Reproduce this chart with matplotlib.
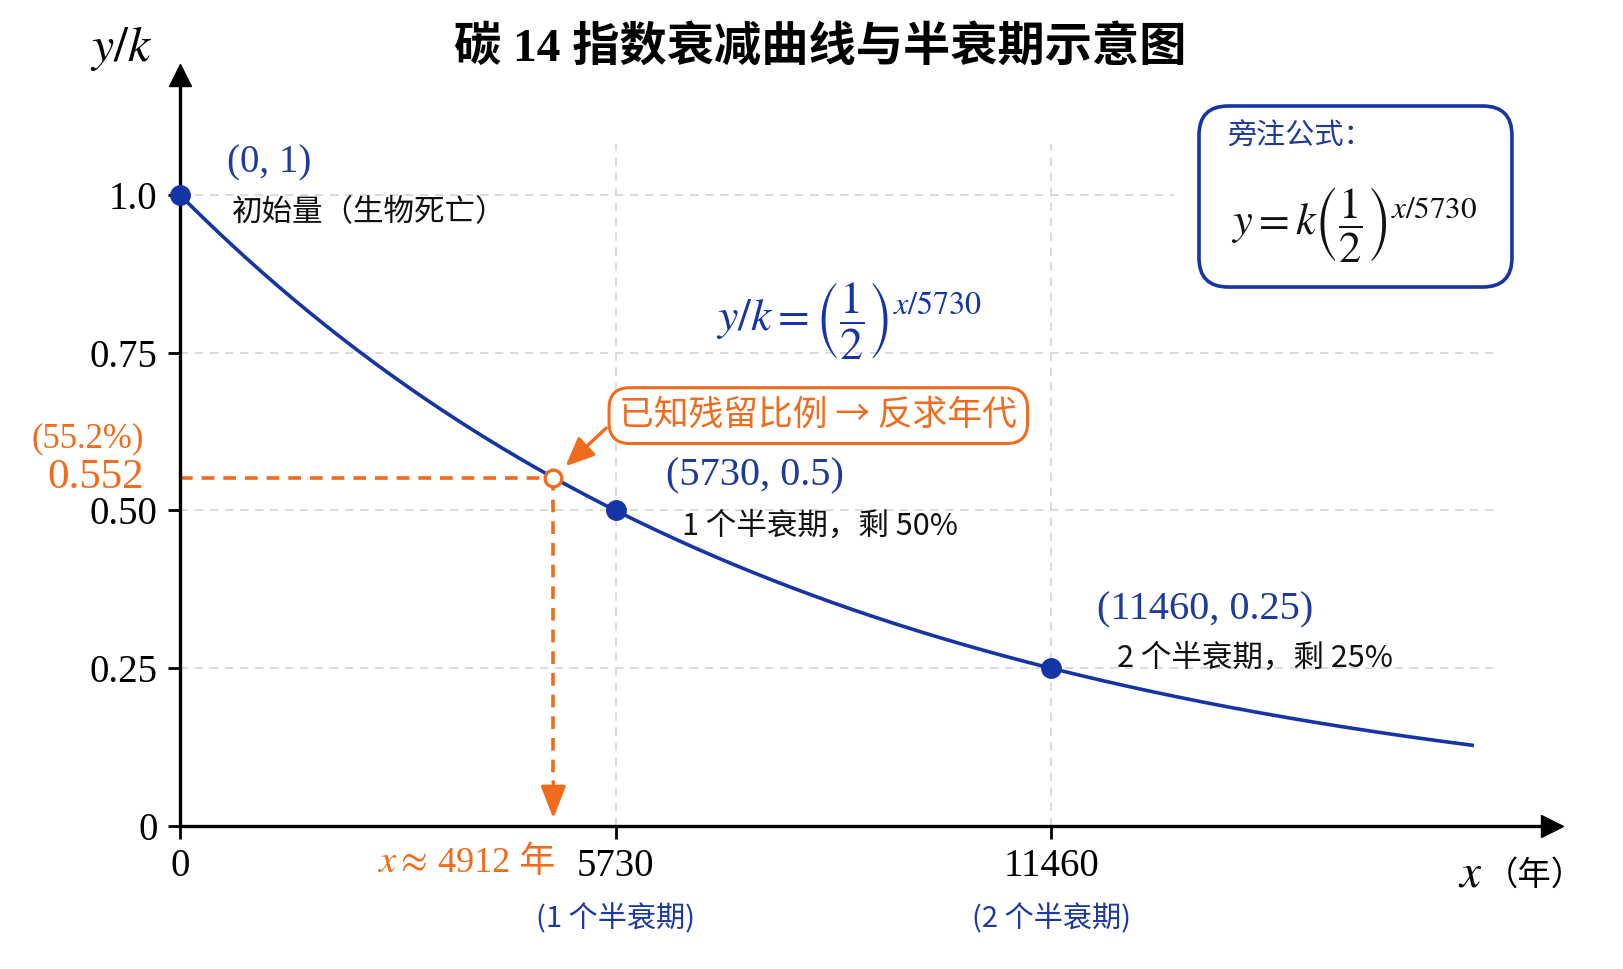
import numpy as np
import matplotlib

matplotlib.use("Agg")
import matplotlib.pyplot as plt
from matplotlib.patches import FancyBboxPatch

plt.rcParams["font.family"] = ["Liberation Serif", "Noto Sans CJK SC"]
plt.rcParams["mathtext.fontset"] = "stix"
CJK = ["Noto Sans CJK SC", "Liberation Serif"]

# data
half_life = 5730
x_end = 17000
key_x = [0, 5730, 11460]
key_y = [1.0, 0.5, 0.25]
known_ratio = 0.552
known_age = 4912
yticks = [0, 0.25, 0.5, 0.75, 1.0]
ytick_labels = ["0", "0.25", "0.50", "0.75", "1.0"]
xticks = [0, 5730, 11460]
xtick_labels = ["0", "5730", "11460"]

blue = "#1535a5"
tblue = "#1d3a9c"
orange = "#f26a1b"
grid_c = "#d4d4d4"

# the curve is the function written on the chart
curve_x = np.linspace(0, x_end, 400)
curve_y = 0.5 ** (curve_x / half_life)

fig = plt.figure(figsize=(16.24, 9.69), dpi=100)
ax = fig.add_axes([0.1108, 0.1476, 0.8449, 0.775])
ax.set_xlim(0, 18050)
ax.set_ylim(0, 1.19)

for s in ["top", "right"]:
    ax.spines[s].set_visible(False)
for s in ["left", "bottom"]:
    ax.spines[s].set_linewidth(2.4)
ax.plot(1, 0, ">k", ms=16, transform=ax.get_yaxis_transform(), clip_on=False)
ax.plot(0, 1, "^k", ms=16, transform=ax.get_xaxis_transform(), clip_on=False)

# dashed guide grid
ax.hlines([0.25, 0.5, 0.75], 0, 17360, colors=grid_c, linestyles=(0, (5, 4)), lw=1.2, zorder=0)
ax.hlines([1.0], 0, 13080, colors=grid_c, linestyles=(0, (5, 4)), lw=1.2, zorder=0)
ax.vlines([5730, 11460], 0, 1.08, colors=grid_c, linestyles=(0, (5, 4)), lw=1.2, zorder=0)

ax.set_xticks(xticks, xtick_labels, fontsize=28)
ax.set_yticks(yticks, ytick_labels, fontsize=28)
ax.tick_params(axis="both", direction="out", length=9, width=2, pad=7)

# curve and key points
ax.plot(curve_x, curve_y, color=blue, lw=2.6, zorder=3)
ax.plot(key_x, key_y, "o", color=blue, ms=14, zorder=4, clip_on=False)

# known ratio -> age
dash = (0, (3.5, 2.5))
ax.plot([0, known_age], [known_ratio, known_ratio], color=orange, lw=2.6, ls=dash, zorder=2)
ax.plot([known_age, known_age], [known_ratio, 0.07], color=orange, lw=2.6, ls=dash, zorder=2)
ax.annotate("", xy=(known_age, 0.012), xytext=(known_age, 0.07),
            arrowprops=dict(arrowstyle="-|>,head_length=0.9,head_width=0.35", color=orange, lw=2.4,
                            mutation_scale=22, shrinkA=0, shrinkB=0))
ax.plot([known_age], [known_ratio], "o", ms=12, mfc="white", mec=orange, mew=2.4, zorder=5)

ax.annotate("已知残留比例 → 反求年代", xy=(known_age, known_ratio), xytext=(265, 62),
            textcoords="offset pixels", ha="center", va="center", fontsize=25, color=orange,
            family=CJK,
            bbox=dict(boxstyle="round,pad=0.3,rounding_size=0.6", fc="white", ec=orange, lw=2.2),
            arrowprops=dict(arrowstyle="-|>,head_length=0.8,head_width=0.35", color=orange, lw=2.4,
                            mutation_scale=22, shrinkB=12, relpos=(0, 0.5)))

ax.annotate("0.552", xy=(0, known_ratio), xytext=(-36, 0), textcoords="offset pixels",
            color=orange, fontsize=31, ha="right", va="center")
ax.annotate("(55.2%)", xy=(0, known_ratio), xytext=(-36, 39), textcoords="offset pixels",
            color=orange, fontsize=25, ha="right", va="center")
ax.annotate("4912 年", xy=(known_age, 0), xytext=(2, -37), textcoords="offset pixels",
            color=orange, fontsize=26, ha="right", va="center")
ax.annotate(r"$x\approx$", xy=(known_age, 0), xytext=(-126, -37), textcoords="offset pixels",
            color=orange, fontsize=28, ha="right", va="center")

# point labels
ax.annotate("(0, 1)", xy=(key_x[0], key_y[0]), xytext=(89, 32), textcoords="offset pixels",
            ha="center", va="center", fontsize=28, color=tblue)
ax.annotate("初始量（生物死亡）", xy=(key_x[0], key_y[0]), xytext=(52, -18), textcoords="offset pixels",
            ha="left", va="center", fontsize=22, color="#111111", family=CJK)
ax.annotate("(5730, 0.5)", xy=(key_x[1], key_y[1]), xytext=(139, 35), textcoords="offset pixels",
            ha="center", va="center", fontsize=29, color=tblue)
ax.annotate("1 个半衰期，剩 50%", xy=(key_x[1], key_y[1]), xytext=(66, -16), textcoords="offset pixels",
            ha="left", va="center", fontsize=22, color="#111111", family=CJK)
ax.annotate("(11460, 0.25)", xy=(key_x[2], key_y[2]), xytext=(154, 58), textcoords="offset pixels",
            ha="center", va="center", fontsize=29, color=tblue)
ax.annotate("2 个半衰期，剩 25%", xy=(key_x[2], key_y[2]), xytext=(66, 10), textcoords="offset pixels",
            ha="left", va="center", fontsize=22, color="#111111", family=CJK)

for hx, lab in zip(key_x[1:], ["(1 个半衰期)", "(2 个半衰期)"]):
    ax.annotate(lab, xy=(hx, 0), xytext=(0, -93), textcoords="offset pixels",
                color=tblue, fontsize=21, ha="center", va="center", family=CJK)

# formulas and axis names
ax.text(8800, 0.80, r"$y/k=\left(\dfrac{1}{2}\right)^{x/5730}$", color=blue, fontsize=33,
        ha="center", va="center")
fig.text(0.0745, 0.95, r"$y/k$", fontsize=36, ha="center", va="center")
fig.text(0.913, 0.097, r"$x$", fontsize=34, ha="right", va="center")
fig.text(0.976, 0.097, "（年）", fontsize=24, ha="right", va="center", family=CJK)

fig.text(0.505, 0.95, "碳 14 指数衰减曲线与半衰期示意图", fontsize=34, fontweight="bold",
         ha="center", va="center")

# side note box
box = FancyBboxPatch((0.7383, 0.7038), 0.1927, 0.1868, boxstyle="round,pad=0,rounding_size=0.018",
                     transform=fig.transFigure, fc="white", ec=blue, lw=2.6, mutation_aspect=1.67)
fig.patches.append(box)
fig.text(0.7555, 0.859, "旁注公式：", color=tblue, fontsize=21, ha="left", va="center", family=CJK)
fig.text(0.758, 0.768, r"$y=k\left(\dfrac{1}{2}\right)^{x/5730}$", color="#111111", fontsize=32,
         ha="left", va="center")

fig.savefig("out.png", dpi=100, facecolor="white")
